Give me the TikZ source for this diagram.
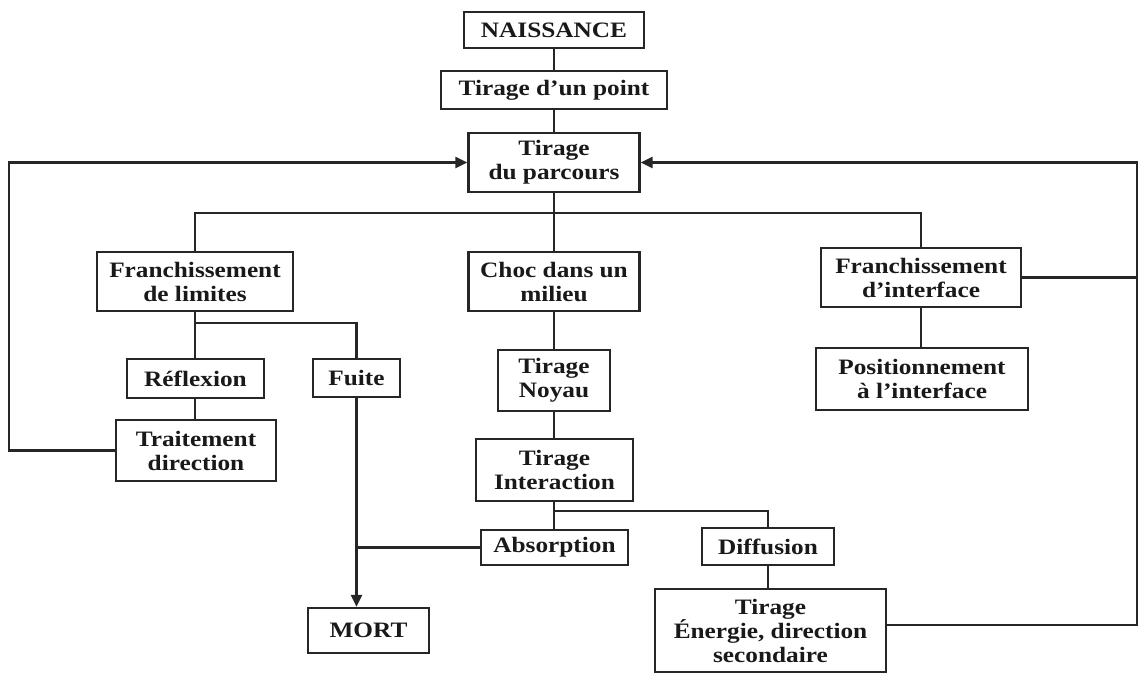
\documentclass[tikz,border=0pt]{standalone}
\usepackage{fontspec}
\setmainfont{Liberation Serif}[FakeStretch=1.15]
\usetikzlibrary{arrows.meta}
\tikzset{
  box/.style={draw=black!85, line width=2.4pt, inner sep=0pt, align=center,
    font=\bfseries\fontsize{22}{24}\selectfont, text=black!90},
  conn/.style={draw=black!85, line width=2.6pt},
  arr/.style={conn, -{Triangle[length=12pt,width=11pt]}},
}
\begin{document}
\begin{tikzpicture}[x=1pt,y=-1pt]
\useasboundingbox (0,0) rectangle (1141,673);
% nodes
\node[box, minimum width=180pt, minimum height=36pt] (naiss) at (554,30) {NAISSANCE};
\node[box, minimum width=226pt, minimum height=38pt] (point) at (554,90) {Tirage d’un point};
\node[box, minimum width=171pt, minimum height=59pt] (parc) at (554,162.5) {Tirage\\du parcours};
\node[box, minimum width=196pt, minimum height=59pt] (flim) at (195,281.5) {Franchissement\\de limites};
\node[box, minimum width=171pt, minimum height=59pt] (choc) at (554,281.5) {Choc dans un\\milieu};
\node[box, minimum width=200pt, minimum height=59pt] (fint) at (921,277.5) {Franchissement\\d’interface};
\node[box, minimum width=137pt, minimum height=39pt] (refl) at (195.5,378.5) {Réflexion};
\node[box, minimum width=87pt, minimum height=38pt] (fuite) at (356.5,378) {Fuite};
\node[box, minimum width=160pt, minimum height=61pt] (trait) at (196,450.5) {Traitement\\direction};
\node[box, minimum width=112pt, minimum height=61pt] (noyau) at (554,380.5) {Tirage\\Noyau};
\node[box, minimum width=212pt, minimum height=62pt] (pos) at (922,379) {Positionnement\\à l’interface};
\node[box, minimum width=157pt, minimum height=62pt] (inter) at (554.5,470) {Tirage\\Interaction};
\node[box, minimum width=147pt, minimum height=35pt] (absor) at (554.5,547.5) {Absorption};
\node[box, minimum width=132pt, minimum height=37pt] (diff) at (768,546.5) {Diffusion};
\node[box, minimum width=231pt, minimum height=83pt] (energ) at (770.5,630.5) {Tirage\\Énergie, direction\\secondaire};
\node[box, minimum width=121pt, minimum height=45pt] (mort) at (368.5,630.5) {MORT};
% helper coordinates
\coordinate (hb) at (554,213);
\coordinate (fb) at (195,323);
\coordinate (ib) at (554,511);
\coordinate (LL) at (9,452);
\coordinate (RR) at (1137,625);
% connectors
\draw[conn] (naiss.south) -- (naiss.south |- point.north);
\draw[conn] (point.south) -- (point.south |- parc.north);
\draw[conn] (parc.south) -- (parc.south |- choc.north);
\draw[conn] (flim.north) |- (hb) -| (fint.north);
\draw[conn] (flim.south) -- (flim.south |- refl.north);
\draw[conn] (fb) -| (fuite.north);
\draw[conn] (flim.south |- refl.south) -- (flim.south |- trait.north);
\draw[conn] (choc.south) -- (choc.south |- noyau.north);
\draw[conn] (noyau.south) -- (noyau.south |- inter.north);
\draw[conn] (noyau.south |- inter.south) -- (noyau.south |- absor.north);
\draw[conn] (ib) -| (diff.north);
\draw[conn] (diff.south) -- (diff.south |- energ.north);
\draw[conn] (fint.south) -- (fint.south |- pos.north);
\draw[conn] (absor.west) -- (absor.west -| fuite.south);
\draw[arr] (fuite.south) -- (fuite.south |- mort.north);
\draw[arr] (trait.west) -- (trait.west -| LL) |- (parc.west);
\draw[arr] ([yshift=5.5pt]energ.east) -- (RR) |- (parc.east);
\draw[conn] (fint.east) -- (fint.east -| RR);
\end{tikzpicture}
\end{document}
